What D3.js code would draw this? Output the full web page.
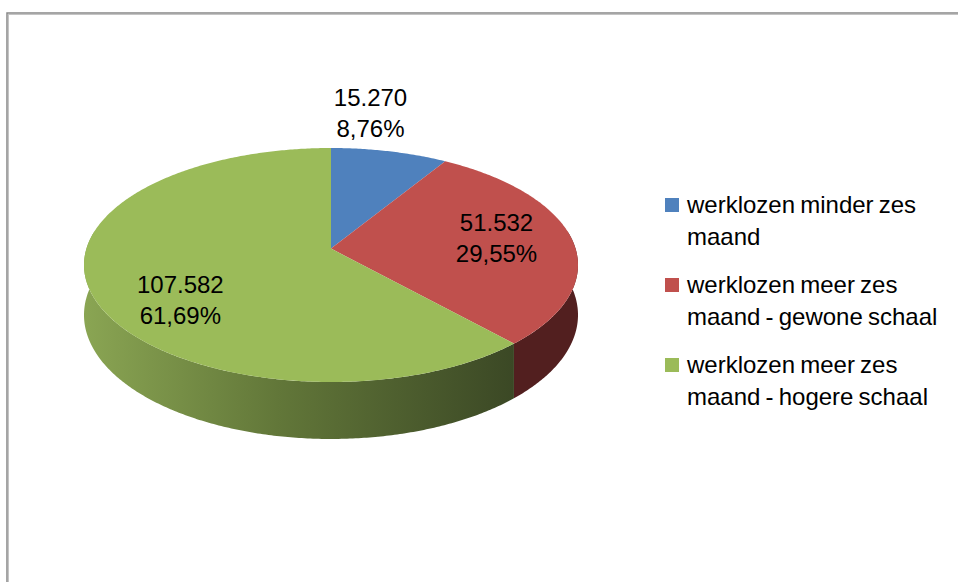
<!DOCTYPE html>
<html>
<head>
<meta charset="utf-8">
<script src="https://cdn.jsdelivr.net/npm/d3@7"></script>
<style>
  html, body { margin: 0; padding: 0; background: #fff; }
  svg { display: block; font-family: "Liberation Sans", Arial, sans-serif; }
</style>
</head>
<body>
<div id="chart"></div>
<script>
// Data
var categories = [
    "werklozen minder zes maand",
    "werklozen meer zes maand - gewone schaal",
    "werklozen meer zes maand - hogere schaal"
];
var values = [15270, 51532, 107582];
var legendLines = [
    ["werklozen minder zes", "maand"],
    ["werklozen meer zes", "maand - gewone schaal"],
    ["werklozen meer zes", "maand - hogere schaal"]
];
var topColors = ["#4f81bd", "#c0504d", "#9bbb59"];

var main = function () {
    "use strict";

    var width = 958, height = 582;
    var svg = d3.select("#chart").append("svg")
        .attr("width", width)
        .attr("height", height);

    // Frame (runs off the right and bottom of the picture)
    svg.append("rect")
        .attr("x", 7).attr("y", 13)
        .attr("width", width + 20).attr("height", height + 20)
        .attr("fill", "none").attr("stroke", "#888").attr("stroke-width", 1.5);
    svg.append("rect")
        .attr("x", 8.5).attr("y", 14.5)
        .attr("width", width + 20).attr("height", height + 20)
        .attr("fill", "none").attr("stroke", "#c4c4c4").attr("stroke-width", 1);

    // Dutch number formats
    var nl = d3.formatLocale({decimal: ",", thousands: ".", grouping: [3], currency: ["€", ""]});
    var fmtValue = nl.format(",");
    var fmtPct = nl.format(".2%");
    var total = d3.sum(values);

    // Pie geometry: a disc seen from above with a bit of perspective.
    // (cx, cy) is the centre of the visible top ellipse, rx/ry its half axes.
    var cx = 331, cy = 265, rx = 247, ry = 117, depth = 49, k = 0.14;
    var sx = rx * Math.sqrt(1 - k * k);
    var sy = ry * (1 - k * k);
    var cyDisc = cy - ry * k;

    var pie = d3.pie().sort(null).startAngle(0).endAngle(2 * Math.PI);
    var slices = pie(values);

    // project a point of the disc (angle clockwise from the top, radius 0..1)
    function proj(angle, r, down) {
        var w = 1 + k * r * Math.cos(angle);
        return [cx + sx * r * Math.sin(angle) / w,
                cyDisc - sy * r * Math.cos(angle) / w + (down ? depth / w : 0)];
    }

    function rimPoints(a0, a1, down) {
        var n = Math.max(2, Math.ceil((a1 - a0) / 0.01)), pts = [];
        for (var j = 0; j <= n; j++) pts.push(proj(a0 + (a1 - a0) * j / n, 1, down));
        return pts;
    }

    // Gradient for the side of the big slice
    var defs = svg.append("defs");
    var grad = defs.append("linearGradient")
        .attr("id", "greenSide")
        .attr("gradientUnits", "userSpaceOnUse")
        .attr("x1", cx - rx).attr("x2", proj(slices[2].startAngle, 1)[0])
        .attr("y1", 0).attr("y2", 0);
    grad.append("stop").attr("offset", "0%").attr("stop-color", "#8aa553");
    grad.append("stop").attr("offset", "45%").attr("stop-color", "#627739");
    grad.append("stop").attr("offset", "100%").attr("stop-color", "#3b4825");

    var sideFills = ["#33507a", "#521f1f", "url(#greenSide)"];

    var line = d3.line();

    // Side walls of the front part
    slices.forEach(function (s, i) {
        var a0 = Math.max(s.startAngle, 0.45 * Math.PI);
        var a1 = Math.min(s.endAngle, 1.55 * Math.PI);
        if (a0 >= a1) return;
        var pts = rimPoints(a0, a1, false).concat(rimPoints(a0, a1, true).reverse());
        svg.append("path")
            .attr("d", line(pts) + "Z")
            .attr("fill", sideFills[i]);
    });

    // Top faces
    svg.append("g")
        .selectAll("path")
        .data(slices)
        .enter()
        .append("path")
        .attr("d", function (d) {
            return line([proj(0, 0)].concat(rimPoints(d.startAngle, d.endAngle, false))) + "Z";
        })
        .attr("fill", function (d, i) { return topColors[i]; });

    // Data labels, anchor in ellipse units
    var labelAnchors = [[0.16, -1.23], [0.67, -0.16], [-0.61, 0.37]];
    slices.forEach(function (s, i) {
        var x = cx + labelAnchors[i][0] * rx;
        var y = cy + labelAnchors[i][1] * ry;
        var t = svg.append("text")
            .attr("text-anchor", "middle")
            .attr("font-size", 24)
            .attr("fill", "#000");
        t.append("tspan").attr("x", x).attr("y", y - 15).text(fmtValue(s.data));
        t.append("tspan").attr("x", x).attr("y", y + 16).text(fmtPct(s.data / total));
    });

    // Legend
    var legend = svg.append("g").attr("transform", "translate(665,198)");
    legendLines.forEach(function (lines, i) {
        var g = legend.append("g")
            .attr("transform", "translate(0," + (i * 80) + ")")
            .attr("aria-label", categories[i]);
        g.append("rect")
            .attr("width", 14).attr("height", 14)
            .attr("fill", topColors[i]);
        var t = g.append("text")
            .attr("font-size", 24)
            .attr("word-spacing", -1.5)
            .attr("fill", "#000");
        lines.forEach(function (l, j) {
            t.append("tspan").attr("x", 22).attr("y", 15 + j * 32).text(l);
        });
    });
};

main();
</script>
</body>
</html>
